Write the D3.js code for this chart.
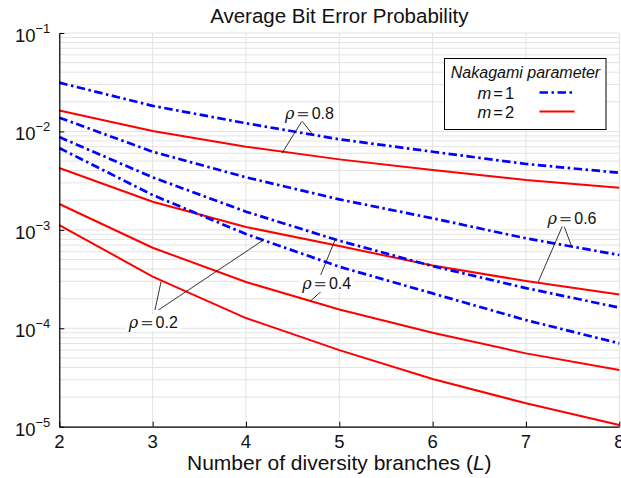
<!DOCTYPE html>
<html lang="en">
<head>
    <meta charset="UTF-8">
    <title>Average Bit Error Probability</title>
    <script src="https://d3js.org/d3.v7.min.js"></script>
    <style>
        body {
            margin: 0;
            background: #fff;
        }
        svg {
            display: block;
            font-family: Helvetica, "Liberation Sans", Arial, sans-serif;
        }
        .grid line {
            stroke: #e3e3e3;
            stroke-width: 1;
        }
        .axis path, .axis line {
            stroke: #000;
        }
        .tick-label {
            font-size: 18.5px;
            fill: #111;
        }
        .note line {
            stroke: #000;
            stroke-width: 0.8;
        }
    </style>
</head>
<body>
    <svg width="621" height="478"></svg>
    <script>
        // diversity branches
        const branches = [2, 3, 4, 5, 6, 7, 8];

        // m = 1 (blue, dash-dot)
        const m1Rho08 = [0.0313, 0.0182, 0.0121, 0.00832, 0.00622, 0.00467, 0.00380];
        const m1Rho06 = [0.0138, 0.00622, 0.00342, 0.00204, 0.00131, 0.00082, 0.000555];
        const m1Rho04 = [0.00877, 0.00342, 0.00153, 0.000775, 0.000428, 0.000256, 0.000162];
        const m1Rho02 = [0.00678, 0.00226, 0.000906, 0.000422, 0.000226, 0.000121, 0.0000703];

        // m = 2 (red, solid)
        const m2Rho08 = [0.0163, 0.0101, 0.0070, 0.00520, 0.00405, 0.00321, 0.00268];
        const m2Rho06 = [0.00425, 0.00193, 0.00107, 0.000684, 0.000434, 0.000302, 0.000220];
        const m2Rho04 = [0.00183, 0.000658, 0.000295, 0.000155, 0.0000900, 0.0000556, 0.0000376];
        const m2Rho02 = [0.00112, 0.000335, 0.000127, 0.0000600, 0.0000305, 0.0000173, 0.0000104];

        const yTickExponents = [-1, -2, -3, -4, -5];

        // rho labels: text position, and the leader lines (data coordinates)
        const rhoNotes = [
            {label: "0.8", at: [4.68, 0.01538], lines: [[[4.601, 0.01276], [4.719, 0.00919]], [[4.601, 0.01276], [4.387, 0.00603]]]},
            {label: "0.6", at: [7.493, 0.001318], lines: [[[7.40, 0.001146], [7.49, 0.000673]], [[7.40, 0.001146], [7.132, 0.000297]]]},
            {label: "0.4", at: [4.865, 0.000286], lines: [[[4.793, 0.000334], [4.954, 0.000787]], [[4.829, 0.000248], [4.694, 0.0001905]]]},
            {label: "0.2", at: [3.007, 0.0001138], lines: [[[3.025, 0.0001531], [3.09, 0.000297]], [[3.061, 0.0001531], [4.186, 0.000787]]]}
        ];

        const margin = {top: 33, right: 1.7, bottom: 51.3, left: 59.3},
              width = 621 - margin.left - margin.right,
              height = 478 - margin.top - margin.bottom;

        const svg = d3.select("svg");
        const g = svg.append("g")
                     .attr("transform", `translate(${margin.left},${margin.top})`);

        const x = d3.scaleLinear().domain([2, 8]).range([0, width]);
        const y = d3.scaleLog().domain([1e-5, 1e-1]).range([height, 0]);

        // grid: x at integers, y at every 1..9 x 10^k
        const minorY = [];
        for (let k = -5; k <= -1; k++) {
            for (let d = 1; d <= 9; d++) {
                const v = d * Math.pow(10, k);
                if (v >= 1e-5 && v <= 1e-1) minorY.push(v);
            }
        }
        const grid = g.append("g").attr("class", "grid");
        grid.selectAll(".gy").data(minorY).enter().append("line")
            .attr("x1", 0).attr("x2", width)
            .attr("y1", d => y(d)).attr("y2", d => y(d));
        grid.selectAll(".gx").data(branches).enter().append("line")
            .attr("x1", d => x(d)).attr("x2", d => x(d))
            .attr("y1", 0).attr("y2", height);

        // series
        const line = d3.line().x((d, i) => x(branches[i])).y(d => y(d));
        const blueSeries = [m1Rho08, m1Rho06, m1Rho04, m1Rho02];
        const redSeries = [m2Rho08, m2Rho06, m2Rho04, m2Rho02];

        g.selectAll(".red").data(redSeries).enter().append("path")
         .attr("d", line)
         .attr("fill", "none")
         .attr("stroke", "#ff0000")
         .attr("stroke-width", 2);

        g.selectAll(".blue").data(blueSeries).enter().append("path")
         .attr("d", line)
         .attr("fill", "none")
         .attr("stroke", "#0000ff")
         .attr("stroke-width", 2.7)
         .attr("stroke-dasharray", "8.5,3.5,2.5,3.5");

        // axes
        const xAxis = g.append("g")
                       .attr("class", "axis")
                       .attr("transform", `translate(0,${height})`)
                       .call(d3.axisBottom(x).tickValues(branches).tickSizeInner(-5).tickSizeOuter(0).tickFormat(""));
        xAxis.select(".domain").attr("stroke-width", 1.2);

        g.selectAll(".xlab").data(branches).enter().append("text")
         .attr("class", "tick-label")
         .attr("x", d => x(d))
         .attr("y", height + 21)
         .attr("text-anchor", "middle")
         .text(d => d);

        const yAxis = g.append("g")
                       .attr("class", "axis")
                       .call(d3.axisLeft(y).tickValues(yTickExponents.map(e => Math.pow(10, e))).tickSizeInner(-5).tickSizeOuter(0).tickFormat(""));
        yAxis.select(".domain").attr("stroke-width", 1.2);

        const yl = g.selectAll(".ylab").data(yTickExponents).enter().append("text")
                    .attr("class", "tick-label")
                    .attr("x", -9)
                    .attr("y", d => y(Math.pow(10, d)) + 9)
                    .attr("text-anchor", "end");
        yl.append("tspan").text("10");
        yl.append("tspan").attr("font-size", 13).attr("dy", -9).text(d => "\u2212" + Math.abs(d));

        // titles
        svg.append("text")
           .attr("x", margin.left + width / 2)
           .attr("y", 23)
           .attr("text-anchor", "middle")
           .style("font-size", "20.5px")
           .style("fill", "#111")
           .text("Average Bit Error Probability");

        const xl = svg.append("text")
           .attr("x", margin.left + width / 2)
           .attr("y", 470)
           .attr("text-anchor", "middle")
           .style("font-size", "21px")
           .style("fill", "#111");
        xl.append("tspan").text("Number of diversity branches (");
        xl.append("tspan").style("font-style", "italic").text("L");
        xl.append("tspan").text(")");

        // rho annotations
        const notes = g.append("g").attr("class", "note");
        rhoNotes.forEach(n => {
            n.lines.forEach(l => {
                notes.append("line")
                     .attr("x1", x(l[0][0])).attr("y1", y(l[0][1]))
                     .attr("x2", x(l[1][0])).attr("y2", y(l[1][1]));
            });
            const t = notes.append("text")
                           .attr("x", x(n.at[0]))
                           .attr("y", y(n.at[1]) + 5.5)
                           .attr("text-anchor", "middle")
                           .style("font-size", "16px")
                           .style("fill", "#111");
            t.append("tspan").style("font-family", "'DejaVu Serif', serif").style("font-style", "italic").style("font-size", "16px").text("\u03c1");
            t.append("tspan").style("font-family", "'DejaVu Serif', serif").style("fill", "#444").attr("dx", 2).text("=");
            t.append("tspan").attr("dx", 2).text(n.label);
            const bb = t.node().getBBox();
            notes.insert("rect", () => t.node())
                 .attr("x", bb.x - 2).attr("y", bb.y + 1)
                 .attr("width", bb.width + 4).attr("height", bb.height - 2)
                 .attr("fill", "#fff");
        });

        // legend
        const legend = svg.append("g").attr("transform", "translate(444.5,58.5)");
        legend.append("rect")
              .attr("width", 161.5).attr("height", 71)
              .attr("fill", "#fff").attr("stroke", "#000").attr("stroke-width", 1);
        legend.append("text")
              .attr("x", 81).attr("y", 19)
              .attr("text-anchor", "middle")
              .style("font-size", "16px").style("font-style", "italic").style("fill", "#111")
              .text("Nakagami parameter");
        const entries = [{m: 1, color: "#0000ff", dash: "8.5,3.5,2.5,3.5", w: 2.7},
                         {m: 2, color: "#ff0000", dash: null, w: 2}];
        entries.forEach((e, i) => {
            const yy = 35 + i * 19;
            const tt = legend.append("text")
                             .attr("x", 33).attr("y", yy + 5.5)
                             .style("font-size", "16.5px").style("fill", "#111");
            tt.append("tspan").style("font-style", "italic").text("m");
            tt.append("tspan").attr("dx", 2).text("=");
            tt.append("tspan").attr("dx", 2).text(e.m);
            legend.append("line")
                  .attr("x1", 95).attr("x2", 130)
                  .attr("y1", yy - 1).attr("y2", yy - 1)
                  .attr("stroke", e.color)
                  .attr("stroke-width", e.w)
                  .attr("stroke-dasharray", e.dash);
        });
    </script>
</body>
</html>
